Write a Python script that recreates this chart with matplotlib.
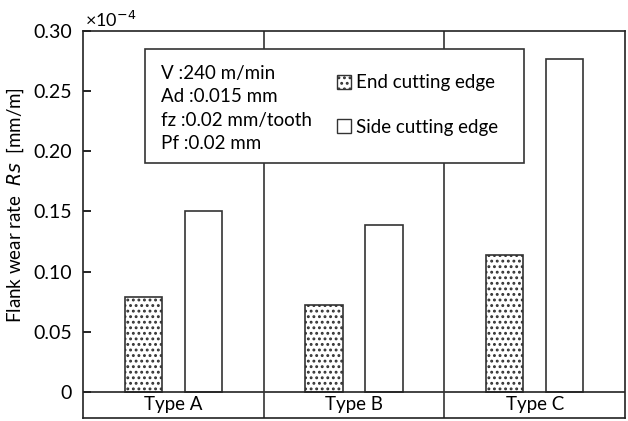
import numpy as np
import matplotlib.pyplot as plt
from matplotlib.patches import Rectangle, Patch

plt.rcParams['font.family'] = ['Lato', 'DejaVu Sans']
plt.rcParams['hatch.linewidth'] = 1.3
plt.rcParams['hatch.color'] = '#222222'

types = ["Type A", "Type B", "Type C"]
end_edge = [0.079, 0.072, 0.114]
side_edge = [0.150, 0.139, 0.277]
yticks = [0, 0.05, 0.10, 0.15, 0.20, 0.25, 0.30]
ytick_labels = ["0", "0.05", "0.10", "0.15", "0.20", "0.25", "0.30"]
conditions = ["V :240 m/min", "Ad :0.015 mm", "fz :0.02 mm/tooth", "Pf :0.02 mm"]

fig = plt.figure(figsize=(6.28, 4.21), dpi=100)
ax = fig.add_axes([0.1322, 0.0071, 0.8630, 0.9193])

x = np.arange(len(types))
w = 0.205
off = 0.166
ax.bar(x - off, end_edge, w, color='white', edgecolor='#333333', linewidth=1.2,
       hatch='...', label='End cutting edge')
ax.bar(x + off, side_edge, w, color='white', edgecolor='#333333', linewidth=1.2,
       label='Side cutting edge')

ax.set_xlim(-0.5, 2.5)
ax.set_ylim(-0.0217, 0.30)
ax.axhline(0, color='#222222', linewidth=1.2)
for sep in [0.5, 1.5]:
    ax.axvline(sep, color='#333333', linewidth=1.2)
for s in ax.spines.values():
    s.set_color('#222222')
    s.set_linewidth(1.2)

ax.set_xticks([])
ax.set_yticks(yticks)
ax.set_yticklabels(ytick_labels, fontsize=14)
ax.tick_params(axis='y', direction='in', length=6, width=1.2, pad=8)

for xi, t in zip(x, types):
    ax.text(xi, -0.0108, t, ha='center', va='center', fontsize=13.5)

ax.set_ylabel("Flank wear rate  $\\mathit{Rs}$  [mm/m]", fontsize=13.5)
ax.yaxis.set_label_coords(-0.105, 0.55)
ax.text(0.003, 1.003, "×10$^{-4}$", transform=ax.transAxes, fontsize=13,
        ha='left', va='bottom')

# condition box
ax.add_patch(Rectangle((0.1144, 0.659), 0.6993, 0.2945, transform=ax.transAxes,
                       facecolor='white', edgecolor='#333333', linewidth=1.2, zorder=5))
for i, c in enumerate(conditions):
    ax.text(0.144, 0.891 - i * 0.0607, c, transform=ax.transAxes, fontsize=13.5,
            va='center', ha='left', zorder=6)

handles = [Patch(facecolor='white', edgecolor='#333333', hatch='...', label='End cutting edge'),
           Patch(facecolor='white', edgecolor='#333333', label='Side cutting edge')]
leg = ax.legend(handles=handles, loc='center left', bbox_to_anchor=(0.468, 0.809),
                frameon=False, fontsize=13.5, handlelength=0.75, handleheight=0.75,
                handletextpad=0.3, labelspacing=1.45, borderaxespad=0, borderpad=0)
leg.set_zorder(7)

fig.savefig("out.png", dpi=100)
